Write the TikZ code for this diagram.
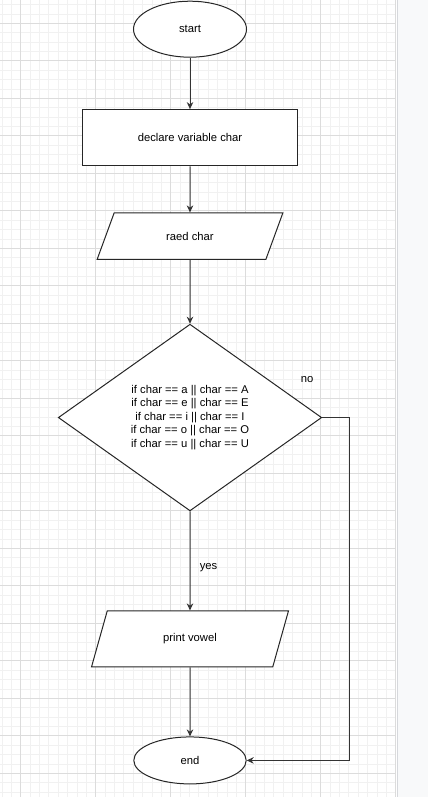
\documentclass[tikz,border=0pt]{standalone}
\usepackage{fontspec}
\setmainfont{Liberation Sans}
\usepackage{xcolor}
\usetikzlibrary{shapes,shapes.geometric,arrows,arrows.meta,positioning,calc}
\definecolor{gridmajor}{HTML}{DCDCDC}
\definecolor{gridminor}{HTML}{F1F1F1}
\definecolor{panelgray}{HTML}{F8F9FA}
\definecolor{panelline}{HTML}{D6D8DC}

\begin{document}
\begin{tikzpicture}[
    x=1pt, y=1pt,
    node distance=50pt,
    font=\fontsize{11.25}{13.5}\selectfont,
    terminal/.style={ellipse, draw=black!85, line width=1pt, fill=white, inner sep=0pt},
    process/.style={rectangle, draw=black!85, line width=1pt, fill=white, minimum width=214.6pt, minimum height=56.3pt},
    io/.style={trapezium, trapezium stretches=true, draw=black!85, line width=1pt, fill=white},
    decision/.style={diamond, aspect=1.41, inner sep=1pt, draw=black!85, line width=1pt, fill=white, align=center, minimum width=263.4pt, minimum height=186.7pt},
    arrow/.style={-{Stealth[length=7pt,width=6.5pt]}, line width=1pt, draw=black!80}
]
    \useasboundingbox (0,0) rectangle (428,797);
    \fill[white] (0,0) rectangle (396,797);
    \foreach \k in {-2,...,40} \draw[gridminor, line width=0.8pt] ({20.7+9.375*\k},0) -- ++(0,797);
    \foreach \k in {-2,...,83} \draw[gridminor, line width=0.8pt] (0,{773.7-9.375*\k}) -- ++(395.7,0);
    \foreach \k in {0,...,5} \draw[gridmajor, line width=0.8pt] ({20.7+75*\k},0) -- ++(0,797);
    \foreach \k in {0,...,20} \draw[gridmajor, line width=0.8pt] (0,{773.7-37.5*\k}) -- ++(395.7,0);
    \fill[panelgray] (397,0) rectangle (428,797);
    \draw[panelline, line width=0.6pt] (397,0) -- (397,797);

    \node[terminal, minimum width=113pt, minimum height=56pt] (start) at (190,767.8) {start};
    \node[process, below=51.4pt of start] (decl) {declare variable char};
    \node[io, trapezium left angle=67.8, trapezium right angle=112.2, minimum width=186.6pt, minimum height=46.6pt, below=46pt of decl] (read) {raed char};
    \node[decision, below=63.7pt of read] (cond) {if char == a || char == A\\if char == e || char == E\\if char == i || char == I\\if char == o || char == O\\if char == u || char == U};
    \node[io, trapezium left angle=71.5, trapezium right angle=108.5, minimum width=197pt, minimum height=56pt, below=99pt of cond] (vowel) {print vowel};
    \node[terminal, minimum width=112.4pt, minimum height=47pt, below=69pt of vowel] (stop) {end};

    \draw[arrow] (start) -- (decl);
    \draw[arrow] (decl) -- (read);
    \draw[arrow] (read) -- (cond);
    \draw[arrow] (cond) -- node[pos=0.57, right, xshift=6pt] {yes} (vowel);
    \draw[arrow] (vowel) -- (stop);
    \draw[arrow] (cond.east) -- node[at start, xshift=-15pt, yshift=38pt] {no} ++(27.3,0) |- (stop.east);
\end{tikzpicture}
\end{document}
